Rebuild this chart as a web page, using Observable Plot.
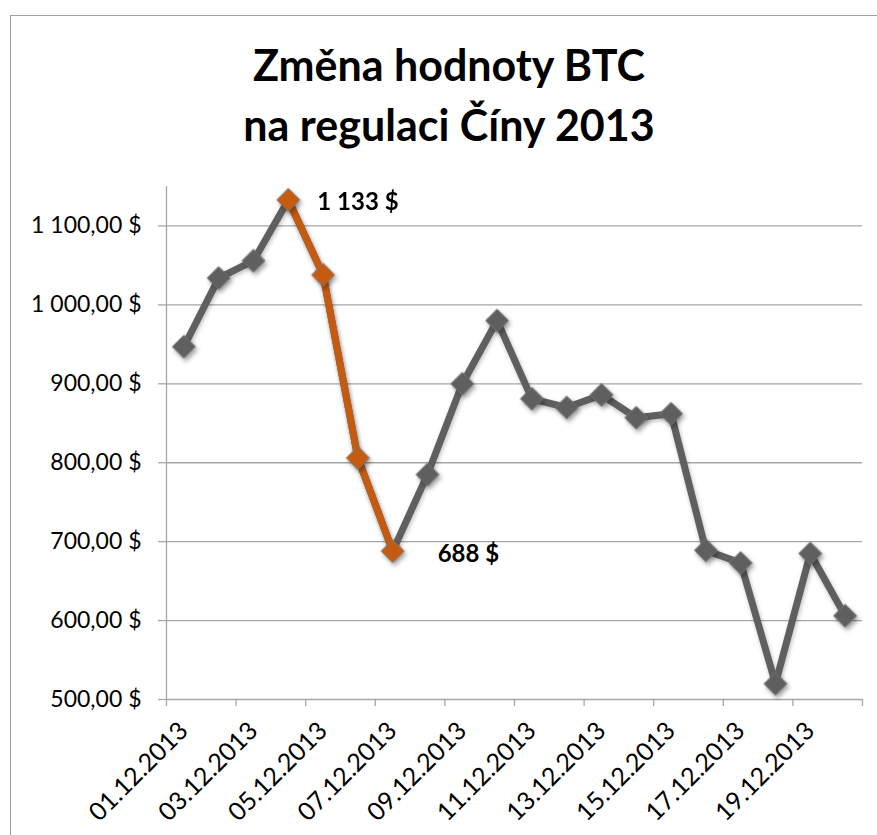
<!DOCTYPE html>
<html>
<head>
<meta charset="utf-8">
<script src="https://cdn.jsdelivr.net/npm/d3@7"></script>
<script src="https://cdn.jsdelivr.net/npm/@observablehq/plot@0.6"></script>
<style>
  html, body { margin: 0; padding: 0; background: #fff; overflow: hidden; }
  #wrap { position: relative; width: 877px; height: 835px; }
  #frame { position: absolute; left: 10px; top: 15px; width: 880px; height: 840px; border: 1px solid #a0a0a0; box-sizing: border-box; }
  #title { position: absolute; left: 0; top: 35px; width: 898px; text-align: center;
           font-family: Lato, sans-serif; font-weight: bold; font-size: 43px; line-height: 60px; color: #000; }
  #chart { position: absolute; left: 0; top: 0; }
</style>
</head>
<body>
<div id="wrap">
  <div id="frame"></div>
  <div id="chart"></div>
  <div id="title">Změna hodnoty BTC<br>na regulaci Číny 2013</div>
</div>
<script>
const dates = ["01.12.2013","02.12.2013","03.12.2013","04.12.2013","05.12.2013","06.12.2013","07.12.2013","08.12.2013","09.12.2013","10.12.2013","11.12.2013","12.12.2013","13.12.2013","14.12.2013","15.12.2013","16.12.2013","17.12.2013","18.12.2013","19.12.2013","20.12.2013"];
const prices = [947, 1034, 1056, 1133, 1038, 806, 688, 785, 900, 980, 881, 870, 886, 857, 862, 689, 673, 520, 685, 606];
const highlightStart = 3;
const highlightEnd = 6;
const yTicks = [500, 600, 700, 800, 900, 1000, 1100];
const peakLabel = {i: 3, text: "1 133 $"};
const lowLabel = {i: 6, text: "688 $"};

const gray = "#5f5f5f";
const orange = "#c55a11";
const gridColor = "#a6a6a6";

const locale = d3.formatLocale({decimal: ",", thousands: " ", grouping: [3], currency: ["", " $"]});
const fmt = locale.format("$,.2f");

const data = dates.map((d, i) => ({i, date: d, price: prices[i], hl: i >= highlightStart && i <= highlightEnd}));
const hlData = data.filter(d => d.hl);
const grayData = data.filter(d => !d.hl);
const n = dates.length;
const boundaries = d3.range(-0.5, n, 2);
const labelIdx = d3.range(0, n, 2);

const chart = Plot.plot({
  width: 877,
  height: 835,
  marginLeft: 166,
  marginRight: 15,
  marginTop: 186,
  marginBottom: 136,
  style: {fontFamily: "Lato, sans-serif", fontSize: "23px", color: "#000", background: "transparent", overflow: "visible"},
  x: {type: "linear", domain: [-0.5, n - 0.5], label: null},
  y: {domain: [500, 1150], label: null},
  marks: [
    Plot.gridY(yTicks, {stroke: gridColor, strokeOpacity: 1, strokeWidth: 1.3}),
    Plot.ruleX([-0.5], {stroke: gridColor, strokeWidth: 1.3}),
    Plot.axisY(yTicks, {tickSize: 8, tickPadding: 17, tickFormat: fmt, stroke: gridColor, strokeWidth: 1.3, fontSize: 23, label: null}),
    Plot.axisX(boundaries, {tickSize: 7, tickFormat: () => "", stroke: gridColor, strokeWidth: 1.3, label: null}),
    Plot.axisX(labelIdx, {tickSize: 0, tickPadding: 27, tickRotate: -45, tickFormat: i => dates[i], fontSize: 25, label: null}),
    Plot.lineY(data, {x: "i", y: "price", stroke: gray, strokeWidth: 7, strokeLinejoin: "round"}),
    Plot.lineY(hlData, {x: "i", y: "price", stroke: orange, strokeWidth: 7, strokeLinejoin: "round"}),
    Plot.dot(grayData, {x: "i", y: "price", symbol: "diamond2", r: 10.4, fill: gray, stroke: "#7a7a7a", strokeWidth: 1}),
    Plot.dot(hlData, {x: "i", y: "price", symbol: "diamond2", r: 10.4, fill: orange, stroke: "#7a7a7a", strokeWidth: 1}),
    Plot.text([peakLabel], {x: "i", y: d => prices[d.i], text: "text", textAnchor: "start", dx: 29, dy: 2, fontWeight: "bold", fontSize: 24}),
    Plot.text([lowLabel], {x: "i", y: d => prices[d.i], text: "text", textAnchor: "start", dx: 45, dy: 3, fontWeight: "bold", fontSize: 24})
  ]
});
document.getElementById("chart").appendChild(chart);
d3.select(chart).selectAll("g[aria-label='dot']").style("filter", "drop-shadow(2px 3px 2px rgba(0,0,0,0.35))");
d3.select(chart).selectAll("g[aria-label='line']").style("filter", "drop-shadow(1px 2px 2px rgba(0,0,0,0.25))");
</script>
</body>
</html>
